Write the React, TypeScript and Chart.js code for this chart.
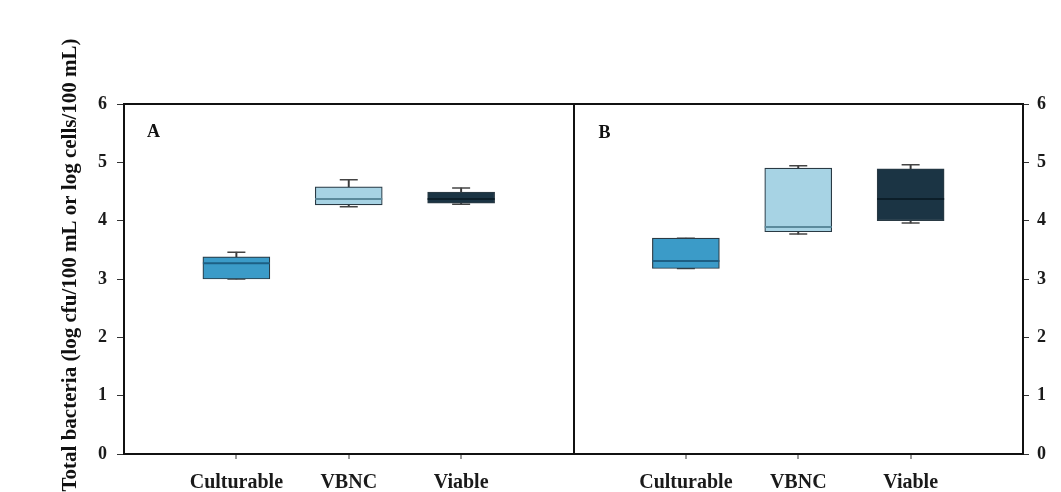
import React, { useEffect, useRef } from 'react';
import { Chart, registerables } from 'chart.js';

Chart.register(...registerables);

const categories = ['Culturable', 'VBNC', 'Viable'];
const panelLabels = ['A', 'B'];
const yTitle = 'Total bacteria (log cfu/100 mL or log cells/100 mL)';
const yMin = 0;
const yMax = 6;

// Panel A (box plot statistics)
const minA = [3.0, 4.24, 4.28];
const q1A = [3.0, 4.27, 4.3];
const medA = [3.27, 4.37, 4.37];
const q3A = [3.38, 4.58, 4.49];
const maxA = [3.46, 4.7, 4.56];

// Panel B
const minB = [3.18, 3.77, 3.96];
const q1B = [3.18, 3.81, 4.0];
const medB = [3.31, 3.89, 4.37];
const q3B = [3.7, 4.9, 4.89];
const maxB = [3.7, 4.94, 4.96];

const fillColors = ['#3b9bc8', '#a7d3e4', '#1b3444'];
const medianColors = ['#1d5f84', '#5b8a9c', '#0c1e29'];

const FONT = '"Liberation Serif", "Times New Roman", serif';

function slot<T>(a: T[], b: T[], empty: any = null): any[] {
  return [empty, ...a, empty, ...b, empty];
}
function range(lo: number[], hi: number[]) {
  return lo.map((v, i) => [v, hi[i]]);
}

const labels = slot(categories, categories, '');
const catIdx = [1, 2, 3, 5, 6, 7];

export default function App() {
  const ref = useRef<HTMLCanvasElement | null>(null);

  useEffect(() => {
    if (!ref.current) return;

    const textPlugin = {
      id: 'panelText',
      afterDraw(chart: any) {
        const { ctx, chartArea, scales } = chart;
        ctx.save();
        ctx.fillStyle = '#111';
        ctx.font = `bold 18px ${FONT}`;
        ctx.textAlign = 'left';
        ctx.textBaseline = 'alphabetic';
        const xA = scales.x.getPixelForValue(0) + 23;
        const xB = scales.x.getPixelForValue(4) + 25;
        ctx.fillText(panelLabels[0], xA, chartArea.top + 33);
        ctx.fillText(panelLabels[1], xB, chartArea.top + 34);
        // y title
        ctx.font = `bold 21px ${FONT}`;
        ctx.textAlign = 'center';
        ctx.textBaseline = 'middle';
        ctx.translate(71, (chartArea.top + chartArea.bottom) / 2 - 14);
        ctx.rotate(-Math.PI / 2);
        ctx.fillText(yTitle, 0, 0);
        ctx.restore();
      },
    };

    const whiskerCommon = {
      type: 'bar' as const,
      grouped: false,
      barThickness: 1.3,
      backgroundColor: '#3a3a3a',
      borderWidth: 0,
    };
    const capCommon = {
      type: 'line' as const,
      showLine: false,
      pointStyle: 'line',
      pointRadius: 9,
      pointHoverRadius: 9,
      pointBorderWidth: 1.5,
      pointBorderColor: '#444',
      borderColor: '#444',
    };

    const chart = new Chart(ref.current, {
      type: 'bar',
      data: {
        labels,
        datasets: [
          { ...whiskerCommon, order: 4, data: slot(range(q3A, maxA), range(q3B, maxB)) } as any,
          { ...whiskerCommon, order: 4, data: slot(range(minA, q1A), range(minB, q1B)) } as any,
          { ...capCommon, order: 3, data: slot(maxA, maxB) } as any,
          { ...capCommon, order: 3, data: slot(minA, minB) } as any,
          {
            type: 'bar',
            order: 1,
            grouped: false,
            barThickness: 67,
            data: slot(range(q1A, q3A), range(q1B, q3B)),
            backgroundColor: slot(fillColors, fillColors, 'transparent'),
            borderColor: '#2a3a44',
            borderWidth: 1.2,
            borderSkipped: false,
          } as any,
          {
            type: 'line',
            order: 0,
            showLine: false,
            pointStyle: 'line',
            pointRadius: 33.5,
            pointHoverRadius: 33.5,
            pointBorderWidth: 2,
            pointBorderColor: slot(medianColors, medianColors, 'transparent'),
            borderColor: '#000',
            data: slot(medA, medB),
          } as any,
        ],
      },
      options: {
        responsive: false,
        animation: false,
        events: [],
        layout: { padding: { top: 104, left: 0, right: 0, bottom: 0 } },
        plugins: {
          legend: { display: false },
          tooltip: { enabled: false },
          title: { display: false },
        },
        scales: {
          x: {
            type: 'category',
            position: 'bottom',
            offset: false,
            grid: {
              offset: false,
              drawOnChartArea: true,
              drawTicks: true,
              tickLength: 5,
              lineWidth: 2,
              color: (c: any) => (c.index === 4 ? '#111' : 'transparent'),
              tickColor: (c: any) => (catIdx.includes(c.index) ? '#333' : 'transparent'),
              tickWidth: 1,
            } as any,
            border: { display: true, color: '#111', width: 2 },
            ticks: {
              autoSkip: false,
              maxRotation: 0,
              minRotation: 0,
              padding: 12,
              color: '#1a1a1a',
              font: { family: FONT, size: 20, weight: 'bold' },
            },
            afterFit: (s: any) => {
              s.height = 38;
            },
          },
          xTop: {
            type: 'category',
            position: 'top',
            offset: false,
            grid: { display: false },
            border: { display: true, color: '#111', width: 2 },
            ticks: { display: false },
            afterFit: (s: any) => {
              s.height = 0;
            },
          },
          y: {
            type: 'linear',
            position: 'left',
            min: yMin,
            max: yMax,
            grid: {
              drawOnChartArea: false,
              drawTicks: true,
              tickLength: 7,
              tickColor: '#333',
            },
            border: { display: true, color: '#111', width: 2 },
            ticks: {
              stepSize: 1,
              padding: 10,
              color: '#1a1a1a',
              font: { family: FONT, size: 18, weight: 'bold' },
            },
            afterFit: (s: any) => {
              s.width = 124;
            },
          },
          y2: {
            type: 'linear',
            position: 'right',
            min: yMin,
            max: yMax,
            grid: {
              drawOnChartArea: false,
              drawTicks: true,
              tickLength: 6,
              tickColor: '#333',
            },
            border: { display: true, color: '#111', width: 2 },
            ticks: {
              stepSize: 1,
              padding: 8,
              color: '#1a1a1a',
              font: { family: FONT, size: 18, weight: 'bold' },
            },
            afterFit: (s: any) => {
              s.width = 38;
            },
          },
        },
      } as any,
      plugins: [textPlugin],
    });

    return () => chart.destroy();
  }, []);

  return (
    <div style={{ position: 'fixed', left: 0, top: 0, width: 1061, height: 492, background: '#fff' }}>
      <canvas ref={ref} width={1061} height={492} style={{ display: 'block', width: 1061, height: 492 }} />
    </div>
  );
}
